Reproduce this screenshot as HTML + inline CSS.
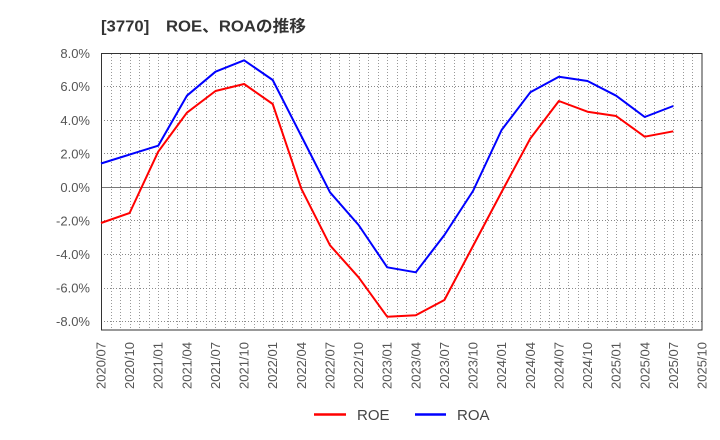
<!DOCTYPE html>
<html>
<head>
<meta charset="utf-8">
<style>
html,body{margin:0;padding:0;background:#fff;}
svg{display:block;}
text{font-family:"Liberation Sans","Noto Sans CJK JP",sans-serif;}
</style>
</head>
<body>
<svg width="720" height="440" viewBox="0 0 720 440" xmlns="http://www.w3.org/2000/svg">
<rect width="720" height="440" fill="#fff"/>
<text x="101" y="31.5" font-size="16" font-weight="bold" fill="#333" textLength="205" lengthAdjust="spacingAndGlyphs">[3770]　ROE、ROAの推移</text>
<g id="vgrid" stroke="#999" stroke-width="1" stroke-dasharray="1,2"></g>
<g stroke="#888" stroke-width="1" stroke-dasharray="1,2">
<line x1="101" y1="86.5" x2="702" y2="86.5"/>
<line x1="101" y1="120.5" x2="702" y2="120.5"/>
<line x1="101" y1="153.5" x2="702" y2="153.5"/>
<line x1="101" y1="220.5" x2="702" y2="220.5"/>
<line x1="101" y1="254.5" x2="702" y2="254.5"/>
<line x1="101" y1="288.5" x2="702" y2="288.5"/>
<line x1="101" y1="321.5" x2="702" y2="321.5"/>
</g>
<line x1="101" y1="187.5" x2="702" y2="187.5" stroke="#777" stroke-width="1"/>
<rect x="101.5" y="53.5" width="600.5" height="276.5" fill="none" stroke="#333" stroke-width="1"/>
<g font-size="13" fill="#555" text-anchor="end">
<text x="90" y="58">8.0%</text>
<text x="90" y="91">6.0%</text>
<text x="90" y="125">4.0%</text>
<text x="90" y="158.5">2.0%</text>
<text x="90" y="192">0.0%</text>
<text x="90" y="225.5">-2.0%</text>
<text x="90" y="259">-4.0%</text>
<text x="90" y="292.5">-6.0%</text>
<text x="90" y="326">-8.0%</text>
</g>
<g id="xlabels" font-size="13" fill="#555" text-anchor="end"></g>
<polyline fill="none" stroke="#ff0000" stroke-width="2" stroke-linejoin="round" points="101,223 129.6,213 158.2,151.7 186.9,112.7 215.5,91 244.1,84 272.7,104 301.3,188.7 330,245.3 358.6,277.3 387.2,316.7 415.8,315.3 444.4,300 473,246 501.6,192 530.3,138.5 558.9,101 587.5,111.7 616.1,116 644.7,136.7 673.3,131.3"/>
<polyline fill="none" stroke="#0000ff" stroke-width="2" stroke-linejoin="round" points="101,163.5 129.6,154.6 158.2,145.7 186.9,95.7 215.5,71.7 244.1,60.3 272.7,80 301.3,136 330,192.3 358.6,225 387.2,267.3 415.8,272.3 444.4,235 473,191 501.6,130 530.3,92.3 558.9,76.7 587.5,81 616.1,95.7 644.7,117 673.3,106"/>
<line x1="314" y1="414.5" x2="346" y2="414.5" stroke="#ff0000" stroke-width="2.5"/>
<text x="357" y="420" font-size="15" fill="#444">ROE</text>
<line x1="415" y1="414.5" x2="446" y2="414.5" stroke="#0000ff" stroke-width="2.5"/>
<text x="457" y="420" font-size="15" fill="#444">ROA</text>
</svg>
<script>
(function(){
  var ns="http://www.w3.org/2000/svg";
  var vg=document.getElementById("vgrid");
  var x0=101, x1=702, months=63, step=(x1-x0)/months;
  for(var k=1;k<months;k++){
    var x=Math.round(x0+k*step)+0.5;
    var l=document.createElementNS(ns,"line");
    l.setAttribute("x1",x);l.setAttribute("x2",x);
    l.setAttribute("y1",54);l.setAttribute("y2",330);
    vg.appendChild(l);
  }
  var xl=document.getElementById("xlabels");
  var labels=["2020/07","2020/10","2021/01","2021/04","2021/07","2021/10","2022/01","2022/04","2022/07","2022/10","2023/01","2023/04","2023/07","2023/10","2024/01","2024/04","2024/07","2024/10","2025/01","2025/04","2025/07","2025/10"];
  var qs=(x1-x0)/21;
  for(var i=0;i<labels.length;i++){
    var tx=x0+i*qs+4.5, ty=342;
    var t=document.createElementNS(ns,"text");
    t.setAttribute("x",tx);t.setAttribute("y",ty);
    t.setAttribute("transform","rotate(-90 "+tx+" "+ty+")");
    t.textContent=labels[i];
    xl.appendChild(t);
  }
})();
</script>
</body>
</html>
